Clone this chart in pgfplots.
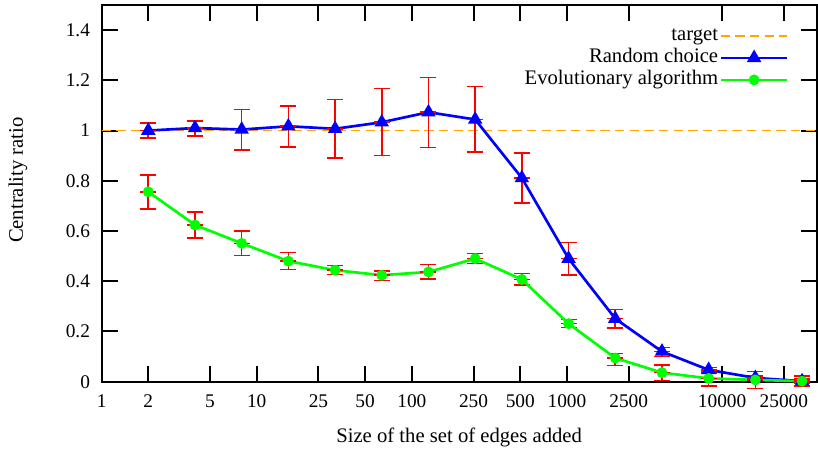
\documentclass[border=0pt]{standalone}
\usepackage{fontspec}
\setmainfont{Liberation Serif}
\usepackage{pgfplots}
\usepackage{pgfplotstable}
\pgfplotsset{compat=1.18}
\definecolor{targetorange}{RGB}{255,165,0}

% x = set size, y = centrality ratio, ep/em = error bar plus/minus
\pgfplotstableread{
x     y      ep     em
2     1.000  0.030  0.030
4     1.010  0.028  0.031
8     1.004  0.080  0.081
16    1.017  0.081  0.082
32    1.007  0.117  0.116
64    1.033  0.134  0.133
128   1.073  0.138  0.141
256   1.044  0.132  0.130
512   0.811  0.099  0.099
1024  0.490  0.064  0.066
2048  0.251  0.036  0.037
4096  0.120  0.016  0.020
8192  0.047  0.009  0.013
16384 0.015  0.008  0.008
32768 0.002  0.008  0.008
}\randomdata

\pgfplotstableread{
x     y      ep     em
2     0.756  0.068  0.069
4     0.624  0.052  0.053
8     0.551  0.048  0.049
16    0.480  0.034  0.033
32    0.444  0.018  0.018
64    0.424  0.017  0.021
128   0.437  0.029  0.029
256   0.490  0.020  0.020
512   0.407  0.024  0.022
1024  0.231  0.016  0.016
2048  0.094  0.018  0.030
4096  0.036  0.031  0.032
8192  0.013  0.030  0.030
16384 0.007  0.033  0.034
32768 0.002  0.020  0.020
}\evodata

\pgfplotsset{
    errstyle/.style={red, line width=1.2pt, only marks, mark=-, mark size=6pt,
        mark options={red, line width=1.2pt}, forget plot,
        error bars/.cd, y dir=both, y explicit,
        error bar style={red, line width=1.2pt},
        error mark options={red, rotate=90, mark size=6pt, line width=1.2pt}},
}

\begin{document}
\begin{tikzpicture}[font=\fontsize{15.5}{18}\selectfont]
\begin{axis}[
    scale only axis,
    width=536.3pt, height=282.5pt,
    xmode=log, log basis x=2,
    xmin=1, xmax=40700,
    ymin=0, ymax=1.5,
    xtick={1,2,5,10,25,50,100,250,500,1000,2500,10000,25000},
    xticklabels={1,2,5,10,25,50,100,250,500,1000,2500,10000,25000},
    ytick={0,0.2,0.4,0.6,0.8,1,1.2,1.4},
    xminorticks=false, yminorticks=false,
    tick align=inside,
    major tick length=12pt,
    axis line style={line width=1.5pt},
    tick style={line width=1.5pt, black},
    /pgf/number format/assume math mode=true,
    tick label style={font=\fontsize{14.5}{17}\selectfont},
    yticklabel style={xshift=-5.2pt},
    xticklabel style={yshift=-6.5pt},
    xlabel={Size of the set of edges added},
    ylabel={Centrality ratio},
    xlabel style={at={(axis description cs:0.5,-0.147)}, anchor=center},
    ylabel style={at={(axis description cs:-0.117,0.535)}, anchor=center},
    clip=false,
    legend style={at={(rel axis cs:0.967,0.955)}, anchor=north east,
        draw=none, fill=none, row sep=0pt,
        nodes={inner sep=1pt, text height=11pt, text depth=3.5pt}},
    legend cell align=right,
    legend plot pos=right,
    legend image code/.code={%
        \draw[mark repeat=2, mark phase=2, #1]
        plot coordinates {(0pt,0pt) (25pt,0pt) (50pt,0pt)};},
]

\addplot[targetorange, line width=1pt, dash pattern=on 7pt off 4pt]
    coordinates {(1,1) (40700,1)};
\addlegendentry{target\hspace{8pt}}

\addplot[errstyle]
    table[x=x, y=y, y error plus=ep, y error minus=em] {\randomdata};
\addplot[errstyle]
    table[x=x, y=y, y error plus=ep, y error minus=em] {\evodata};

\addplot[blue, line width=2pt, mark=triangle*, mark size=4.3pt, mark options={solid}]
    table[x=x, y=y] {\randomdata};
\addlegendentry{Random choice\hspace{8pt}}

\addplot[green, line width=2pt, mark=*, mark size=3pt, mark options={solid}]
    table[x=x, y=y] {\evodata};
\addlegendentry{Evolutionary algorithm\hspace{8pt}}

\end{axis}
\pgfresetboundingbox
\path ([shift={(-76.2pt,-51.2pt)}]current axis.south west)
    rectangle ([shift={(1pt,3.75pt)}]current axis.north east);
\end{tikzpicture}
\end{document}
